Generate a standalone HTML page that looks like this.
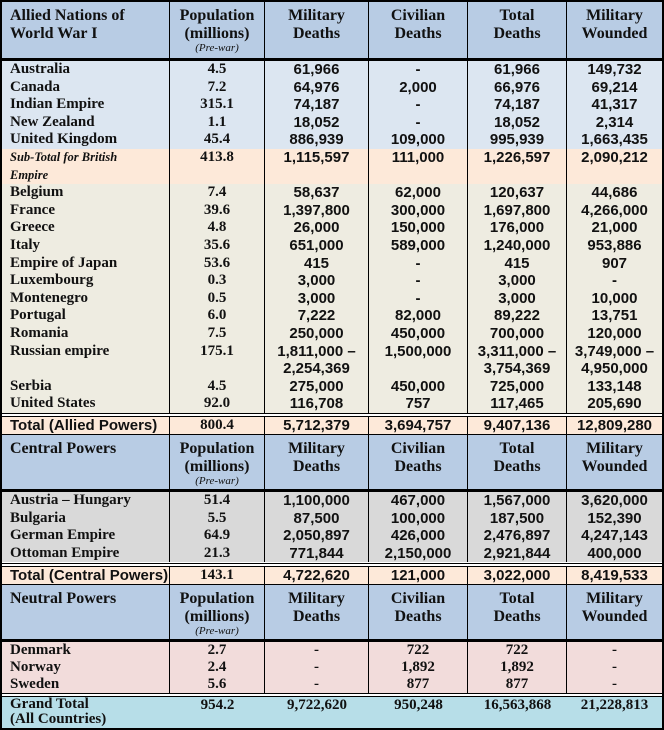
<!DOCTYPE html>
<html><head><meta charset="utf-8">
<style>
*{box-sizing:border-box;margin:0;padding:0}
body{width:664px;height:730px;background:#fff;overflow:hidden;font-family:"Liberation Serif",serif;color:#111}
#tbl{position:absolute;left:0;top:0;width:664px;height:730px;border:2px solid #000}
.row{position:absolute;left:0;width:660px;display:grid;grid-template-columns:168px 95px 104px 99px 99px 95px}
.row>div{border-right:1px solid #000;text-align:center;font-weight:bold;font-size:15px;line-height:17.6px;overflow:hidden;white-space:nowrap}
.row>div:last-child{border-right:none}
.row>div:first-child{text-align:left;padding-left:8px}
.hdr>div{font-size:16px;line-height:17.5px;padding-top:5px}
.hdr>div:first-child{padding-left:8px}
.pre{font-size:11px;font-style:italic;font-weight:normal;line-height:12px;display:block}
.sans{font-family:"Liberation Sans",sans-serif;font-size:12.5px}
.hl{position:absolute;left:0;width:660px;background:#000}
</style></head><body>
<div id="tbl"></div>
<script>
const hdrCols=["Population<br>(millions)<span class='pre'>(Pre-war)</span>","Military<br>Deaths","Civilian<br>Deaths","Total<br>Deaths","Military<br>Wounded"];
const allied=[
["Australia","4.5","61,966","-","61,966","149,732",1,"#dce6f1"],
["Canada","7.2","64,976","2,000","66,976","69,214",1,"#dce6f1"],
["Indian Empire","315.1","74,187","-","74,187","41,317",1,"#dce6f1"],
["New Zealand","1.1","18,052","-","18,052","2,314",1,"#dce6f1"],
["United Kingdom","45.4","886,939","109,000","995,939","1,663,435",1,"#dce6f1"],
["<i style='font-size:12.5px'>Sub-Total for British<br>Empire</i>","413.8","1,115,597","111,000","1,226,597","2,090,212",2,"#fde9d9"],
["Belgium","7.4","58,637","62,000","120,637","44,686",1,"#eeece1"],
["France","39.6","1,397,800","300,000","1,697,800","4,266,000",1,"#eeece1"],
["Greece","4.8","26,000","150,000","176,000","21,000",1,"#eeece1"],
["Italy","35.6","651,000","589,000","1,240,000","953,886",1,"#eeece1"],
["Empire of Japan","53.6","415","-","415","907",1,"#eeece1"],
["Luxembourg","0.3","3,000","-","3,000","-",1,"#eeece1"],
["Montenegro","0.5","3,000","-","3,000","10,000",1,"#eeece1"],
["Portugal","6.0","7,222","82,000","89,222","13,751",1,"#eeece1"],
["Romania","7.5","250,000","450,000","700,000","120,000",1,"#eeece1"],
["Russian empire","175.1","1,811,000 &ndash;<br>2,254,369","1,500,000","3,311,000 &ndash;<br>3,754,369","3,749,000 &ndash;<br>4,950,000",2,"#eeece1"],
["Serbia","4.5","275,000","450,000","725,000","133,148",1,"#eeece1"],
["United States","92.0","116,708","757","117,465","205,690",1,"#eeece1"]];
const central=[
["Austria &ndash; Hungary","51.4","1,100,000","467,000","1,567,000","3,620,000"],
["Bulgaria","5.5","87,500","100,000","187,500","152,390"],
["German Empire","64.9","2,050,897","426,000","2,476,897","4,247,143"],
["Ottoman Empire","21.3","771,844","2,150,000","2,921,844","400,000"]];
const neutral=[
["Denmark","2.7","-","722","722","-"],
["Norway","2.4","-","1,892","1,892","-"],
["Sweden","5.6","-","877","877","-"]];
const T=document.getElementById('tbl');
function row(top,h,bg,cells,name,sansFrom){
  const r=document.createElement('div');
  r.className='row';
  
  
  r.style.top=top+'px';r.style.height=h+'px';r.style.background=bg;
  cells.forEach((c,i)=>{const d=document.createElement('div');d.innerHTML=c;
    if(sansFrom!==null&&i>=sansFrom)d.className='sans';
    
    
    r.appendChild(d);});
  T.appendChild(r);return r;
}
function line(top,h,dbl){
  const l=document.createElement('div');
  l.className='hl';
  
  
  l.style.top=top+'px';l.style.height=h+'px';
  if(dbl){l.style.background='transparent';l.style.borderTop='1px solid #000';l.style.borderBottom='1px solid #000';}
  T.appendChild(l);
}
function hdr(top,h,title,name){const r=row(top,h,'#b8cce4',[title].concat(hdrCols),name,null);r.classList.add('hdr');}
hdr(0,56,"Allied Nations of<br>World War I","allied-header");
line(56,3);
let y=59;
allied.forEach(a=>{const h=17.6*a[6];row(y,h,a[7],a.slice(0,6),'allied-row',2);y+=h;});
line(411,4,true);
const t1=row(415,17,'#fde9d9',["Total (Allied Powers)","800.4","5,712,379","3,694,757","9,407,136","12,809,280"],'total-allied-row',0);
t1.children[0].className='sans';t1.children[1].style.fontFamily='"Liberation Serif",serif';t1.children[1].style.fontSize='15px';
line(432,1);
hdr(433,54,"Central Powers","central-header");
line(487,3);
y=490;
central.forEach(a=>{row(y,17.6,'#d9d9d9',a,'central-row',2);y+=17.6;});
line(561,4,true);
const t2=row(565,17,'#fde9d9',["Total (Central Powers)","143.1","4,722,620","121,000","3,022,000","8,419,533"],'total-central-row',0);
t2.children[0].className='sans';t2.children[1].style.fontFamily='"Liberation Serif",serif';t2.children[1].style.fontSize='15px';
line(582,1);
hdr(583,54,"Neutral Powers","neutral-header");
line(637,3);
y=640;
neutral.forEach(a=>{row(y,17,'#f2dcdb',a,'neutral-row',null);y+=17;});
line(691,4,true);
const g=row(695,31,'#b7dee8',["Grand Total<br>(All Countries)","954.2","9,722,620","950,248","16,563,868","21,228,813"],'grand-total-row',null);
for(let i=0;i<6;i++){g.children[i].style.borderRight='none';}
g.children[0].style.lineHeight='15px';
</script>
</body></html>
